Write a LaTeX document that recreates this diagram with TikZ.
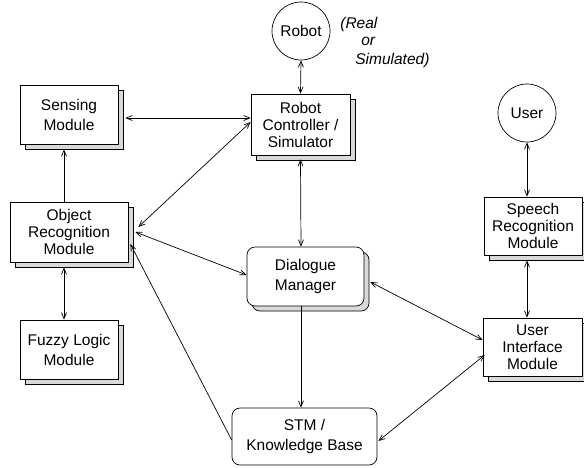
\documentclass[tikz,border=0pt]{standalone}
\usepackage{fontspec}
\setmainfont{Liberation Sans}
\usetikzlibrary{shadows,arrows.meta}
\begin{document}
\begin{tikzpicture}[x=1pt,y=-1pt,line width=0.7pt,
  font=\fontsize{15.5}{20}\selectfont,
  >={Straight Barb[length=6pt,width=5pt]},
  shadowed/.style={copy shadow={shadow xshift=5pt,shadow yshift=-5pt,fill=gray!30,draw=black}},
  module/.style={draw,fill=white,inner sep=0pt,align=center,shadowed},
  threeline/.style={font=\fontsize{15.5}{17}\selectfont},
  roundmod/.style={draw,fill=white,inner sep=0pt,align=center,rounded corners=8pt},
  agent/.style={draw,circle,fill=white,inner sep=0pt,minimum size=58pt},
  note/.style={font=\fontsize{15.5}{20}\selectfont\itshape,anchor=base west,inner sep=0pt}]
\useasboundingbox (0,0) rectangle (584,467);

% agents
\node[agent] (robot) at (301,31) {Robot};
\node[agent] (user) at (527,113) {User};
\node[note] (n1) at (340,28) {(Real};
\node[note] (n2) at (361,45) {or};
\node[note] (n3) at (355,64) {Simulated)};

% modules
\node[module,minimum width=98pt,minimum height=59pt] (sensing) at (69,114.5) {Sensing\\Module};
\node[module,threeline,minimum width=99pt,minimum height=61pt] (rc) at (300.5,124.5) {Robot\\Controller /\\Simulator};
\node[module,threeline,minimum width=118pt,minimum height=60pt] (objrec) at (69,232) {Object\\Recognition\\Module};
\node[module,minimum width=98pt,minimum height=59pt] (fuzzy) at (69,349.5) {Fuzzy Logic\\Module};
\node[roundmod,shadowed,minimum width=117pt,minimum height=59pt] (dm) at (305.5,276.5) {Dialogue\\Manager};
\node[roundmod,minimum width=145pt,minimum height=57pt] (stm) at (304.5,436.5) {STM /\\Knowledge Base};
\node[module,threeline,minimum width=98pt,minimum height=58pt] (speech) at (533,226) {Speech\\Recognition\\Module};
\node[module,threeline,minimum width=99pt,minimum height=58pt] (uim) at (532.5,347) {User\\Interface\\Module};

% connectors
\draw[<->] (robot.south) -- (rc.north);
\draw[<->] ([xshift=7pt,yshift=-3.5pt]sensing.east) -- ([yshift=6.5pt]rc.west);
\draw[->] ([xshift=-5pt]objrec.north) -- ([xshift=-5pt,yshift=-5pt]sensing.south);
\draw[<->] ([xshift=-5pt,yshift=-5pt]objrec.south) -- ([xshift=-5pt]fuzzy.north);
\draw[<->] ([xshift=10pt,yshift=5pt]objrec.east) -- ([yshift=2.5pt]rc.west);
\draw[<->] ([xshift=7pt]objrec.east) -- ([yshift=1.5pt]dm.west);
\draw[->] ([yshift=-3.5pt]stm.west) -- ([xshift=2pt,yshift=-12pt]objrec.east);
\draw[<->] ([yshift=-4pt]rc.south) -- ([xshift=-4.5pt]dm.north);
\draw[->] ([xshift=-4.5pt]dm.south) -- ([xshift=-3.5pt]stm.north);
\draw[<->] ([xshift=6pt,yshift=-5.5pt]dm.east) -- ([yshift=7pt]uim.west);
\draw[<->] ([xshift=1pt,yshift=-4.5pt]stm.east) -- ([xshift=2pt,yshift=-8pt]uim.west);
\draw[<->] (user.south) -- ([xshift=-6pt]speech.north);
\draw[<->] ([xshift=-6pt,yshift=-5pt]speech.south) -- ([xshift=-5.5pt]uim.north);
\end{tikzpicture}
\end{document}
